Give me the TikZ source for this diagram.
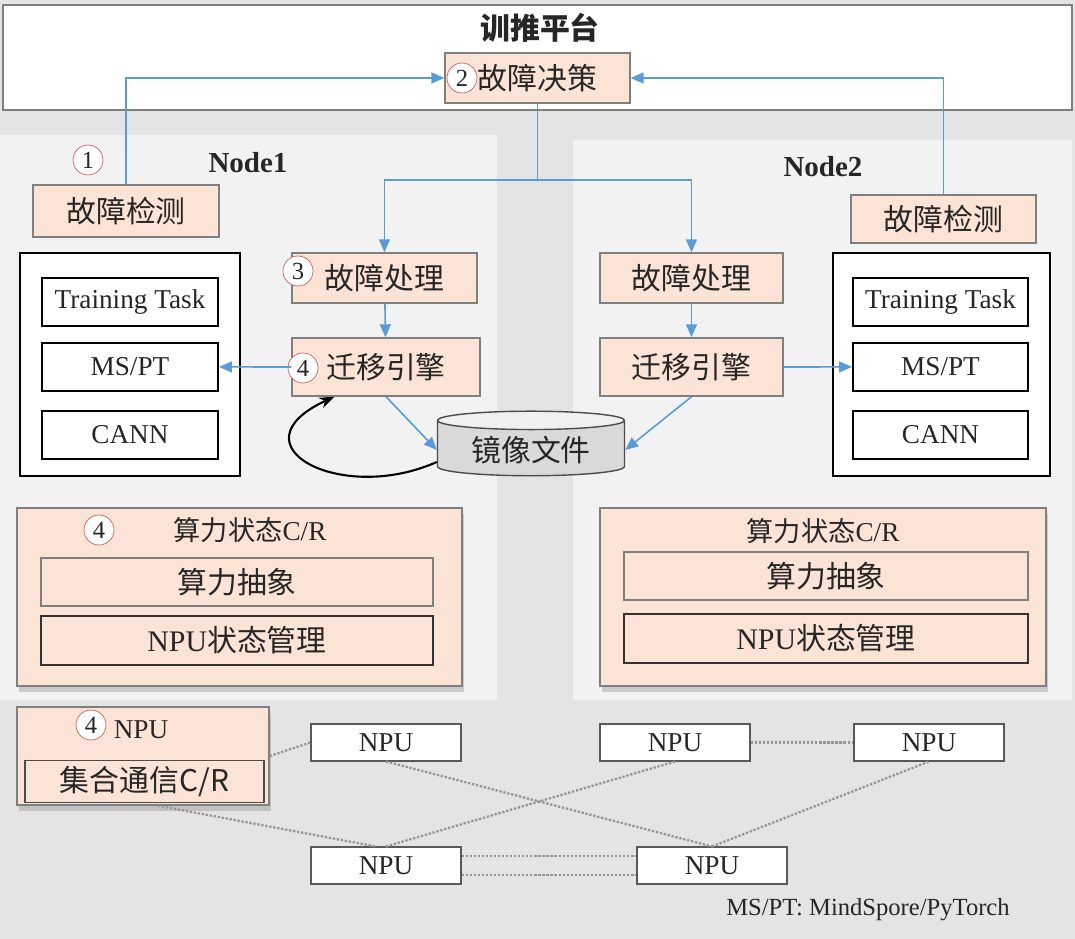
\documentclass[tikz,border=0pt]{standalone}
\usepackage{fontspec}
\setmainfont{Liberation Serif}
\newfontfamily\cjk{Noto Sans CJK SC}
\usepackage{tikz}
\usetikzlibrary{positioning}
\usetikzlibrary {arrows.meta}
\usetikzlibrary{shapes.geometric,shadows}
\definecolor{bgray}{HTML}{E4E4E4}
\definecolor{panel}{HTML}{F2F2F2}
\definecolor{peach}{HTML}{FBE4D5}
\definecolor{boxline}{HTML}{7F7F7F}
\definecolor{flowblue}{HTML}{5B9BD5}
\definecolor{circred}{HTML}{D06060}
\definecolor{ink}{HTML}{262626}
\tikzset{faultbox/.style={rectangle,draw=boxline,fill=peach,line width=0.8pt,
text=ink,font=\cjk\fontsize{17}{19}\selectfont}}
\tikzset{crbox/.style={rectangle,draw=boxline,fill=peach,line width=0.8pt,
drop shadow={shadow xshift=0.4mm,shadow yshift=-1.2mm,opacity=0.35}}}
\tikzset{layerbox/.style={rectangle,draw=black,fill=white,line width=1.1pt,
minimum width=3.52cm,minimum height=0.96cm,text=ink,font=\fontsize{15.5}{17}\selectfont}}
\tikzset{npubox/.style={rectangle,draw=gray!70!black,fill=white,line width=0.6pt,
minimum width=3cm,minimum height=0.74cm,text=ink,font=\fontsize{15.5}{17}\selectfont}}
\tikzset{stepnum/.style={circle,draw=circred,fill=white,inner sep=0pt,
minimum size=0.6cm,text=ink,font=\fontsize{14}{16}\selectfont}}
\tikzset{flow/.style={draw=flowblue,line width=0.9pt,-{Triangle[length=2.6mm,width=2.2mm]}}}
\tikzset{link/.style={draw=gray!60!black!60,line width=1.3pt,densely dotted}}

\begin{document}
\begin{tikzpicture}[x=0.02cm,y=-0.02cm]
    \useasboundingbox (0,0) rectangle (1075,939);
    \fill[bgray] (0,0) rectangle (1075,939);

    % platform and the two nodes
    \draw[fill=white,draw=boxline,line width=1.2pt] (3,5) rectangle (1072,110);
    \fill[panel] (0,135) rectangle (497,700);
    \fill[panel] (573,140) rectangle (1072,700);

    \node[text=ink,font=\cjk\bfseries\fontsize{17}{19}\selectfont] (platform) at (540,28) {训推平台};
    \node[faultbox,minimum width=3.7cm,minimum height=1cm] (decision) at (537.5,78) {故障决策};
    \node[stepnum] (num2) at (462,78) {2};

    \node[text=ink,font=\bfseries\fontsize{16.5}{18}\selectfont] (node1) at (248,163) {Node1};
    \node[text=ink,font=\bfseries\fontsize{16.5}{18}\selectfont] (node2) at (823,167) {Node2};

    % Node1
    \node[stepnum] (num1) at (88,160) {1};
    \node[faultbox,minimum width=3.72cm,minimum height=1.04cm] (detect1) at (126,211) {故障检测};
    \node[draw=black,fill=white,line width=1.2pt,minimum width=4.4cm,minimum height=4.46cm] (stack1) at (130,364.5) {};
    \node[layerbox] (task1) at (130,302) {Training Task};
    \node[layerbox] (ms1) [below=0.3cm of task1] {MS/PT};
    \node[layerbox] (cann1) [below=0.36cm of ms1] {CANN};

    \node[faultbox,minimum width=3.7cm,minimum height=1cm] (handle1) at (384.5,278) {故障处理};
    \node[stepnum] (num3) at (298,271) {3};
    \node[faultbox,minimum width=3.76cm,minimum height=1.16cm] (migr1) at (386,367) {迁移引擎};
    \node[stepnum] (num4a) at (303,368) {4};

    % Node2
    \node[faultbox,minimum width=3.7cm,minimum height=0.96cm] (detect2) at (943.5,219) {故障检测};
    \node[draw=black,fill=white,line width=1.2pt,minimum width=4.34cm,minimum height=4.46cm] (stack2) at (941.5,364.5) {};
    \node[layerbox,minimum width=3.5cm] (task2) at (940.5,302) {Training Task};
    \node[layerbox,minimum width=3.5cm] (ms2) [below=0.3cm of task2] {MS/PT};
    \node[layerbox,minimum width=3.5cm] (cann2) [below=0.36cm of ms2] {CANN};

    \node[faultbox,minimum width=3.66cm,minimum height=1cm] (handle2) at (691.5,278) {故障处理};
    \node[faultbox,minimum width=3.66cm,minimum height=1.16cm] (migr2) at (691.5,367) {迁移引擎};

    % image file
    \node[cylinder,shape border rotate=90,aspect=0.14,draw=gray!60!black,line width=0.8pt,
          cylinder uses custom fill,cylinder body fill=gray!30,cylinder end fill=gray!12,
          minimum width=3.74cm,minimum height=1.2cm,text=ink,
          font=\cjk\fontsize{17}{19}\selectfont] (image) at (531,450) {镜像文件};

    % compute state C/R
    \node[crbox,minimum width=8.9cm,minimum height=3.56cm] (cr1) at (239.5,597) {};
    \node[text=ink,font=\fontsize{15.5}{17}\selectfont] (cr1title) at (250,530) {{\cjk 算力状态}C/R};
    \node[stepnum] (num4b) at (99,530) {4};
    \node[faultbox,minimum width=7.84cm,minimum height=0.96cm] (abs1) at (237,582) {算力抽象};
    \node[faultbox,draw=black!80,line width=1.2pt,minimum width=7.84cm,minimum height=0.98cm] (mgmt1) at (237,640.5) {{\rmfamily NPU}状态管理};

    \node[crbox,minimum width=8.92cm,minimum height=3.56cm] (cr2) at (823,597) {};
    \node[text=ink,font=\fontsize{15.5}{17}\selectfont] (cr2title) at (823,531) {{\cjk 算力状态}C/R};
    \node[faultbox,minimum width=8.08cm,minimum height=0.96cm] (abs2) at (826,576) {算力抽象};
    \node[faultbox,draw=black!80,line width=1.2pt,minimum width=8.08cm,minimum height=0.98cm] (mgmt2) at (826,638.5) {{\rmfamily NPU}状态管理};

    % NPUs
    \node[crbox,minimum width=5.04cm,minimum height=1.96cm] (npu0) at (143,756) {};
    \node[text=ink,font=\fontsize{15.5}{17}\selectfont] (npu0title) at (141,730) {NPU};
    \node[stepnum] (num4c) at (91,725) {4};
    \node[faultbox,draw=black!70,minimum width=4.78cm,minimum height=0.66cm] (coll) at (144.5,781.5) {集合通信C/R};

    \node[npubox] (npuA) at (386,742.5) {NPU};
    \node[npubox] (npuB) at (675,742.5) {NPU};
    \node[npubox] (npuC) at (929,742.5) {NPU};
    \node[npubox] (npuD) at (386,865.5) {NPU};
    \node[npubox] (npuE) at (712,865.5) {NPU};

    \draw[link] (npu0.east) -- (npuA.west);
    \draw[link] ([xshift=0.3cm]npu0.south) -- ([xshift=-0.2cm]npuD.north);
    \draw[link] (npuA.south) -- (npuE.north);
    \draw[link] (npuD.north) -- (npuB.south);
    \draw[link] (npuE.north) -- (npuC.south);
    \draw[link] (npuB.east) -- (npuC.west);
    \draw[link] ([yshift=0.19cm]npuD.east) -- ([yshift=0.19cm]npuE.west);
    \draw[link] ([yshift=-0.19cm]npuD.east) -- ([yshift=-0.19cm]npuE.west);

    \node[text=ink,font=\fontsize{14}{16}\selectfont] (legend) at (868,910) {MS/PT: MindSpore/PyTorch};

    % fault flow
    \coordinate (split) at (537.5,180);
    \draw[flow] (detect1.north) |- (decision.west);
    \draw[flow] (detect2.north) |- (decision.east);
    \draw[flow] (decision.south) -- (split) -| (handle1.north);
    \draw[flow] (split) -| (handle2.north);
    \draw[flow] (handle1) -- (migr1);
    \draw[flow] (handle2) -- (migr2);
    \draw[flow] (migr1.west) -- (ms1.east);
    \draw[flow] (migr2.east) -- (ms2.west);
    \draw[flow] (migr1.south) -- (image.west);
    \draw[flow] (migr2.south) -- (image.east);
    \draw[line width=1.2pt,-{Stealth[length=3mm]}] ([yshift=-0.24cm]image.west)
        .. controls (340,505) and (230,445) .. ([xshift=0.86cm]migr1.south west);
\end{tikzpicture}
\end{document}
